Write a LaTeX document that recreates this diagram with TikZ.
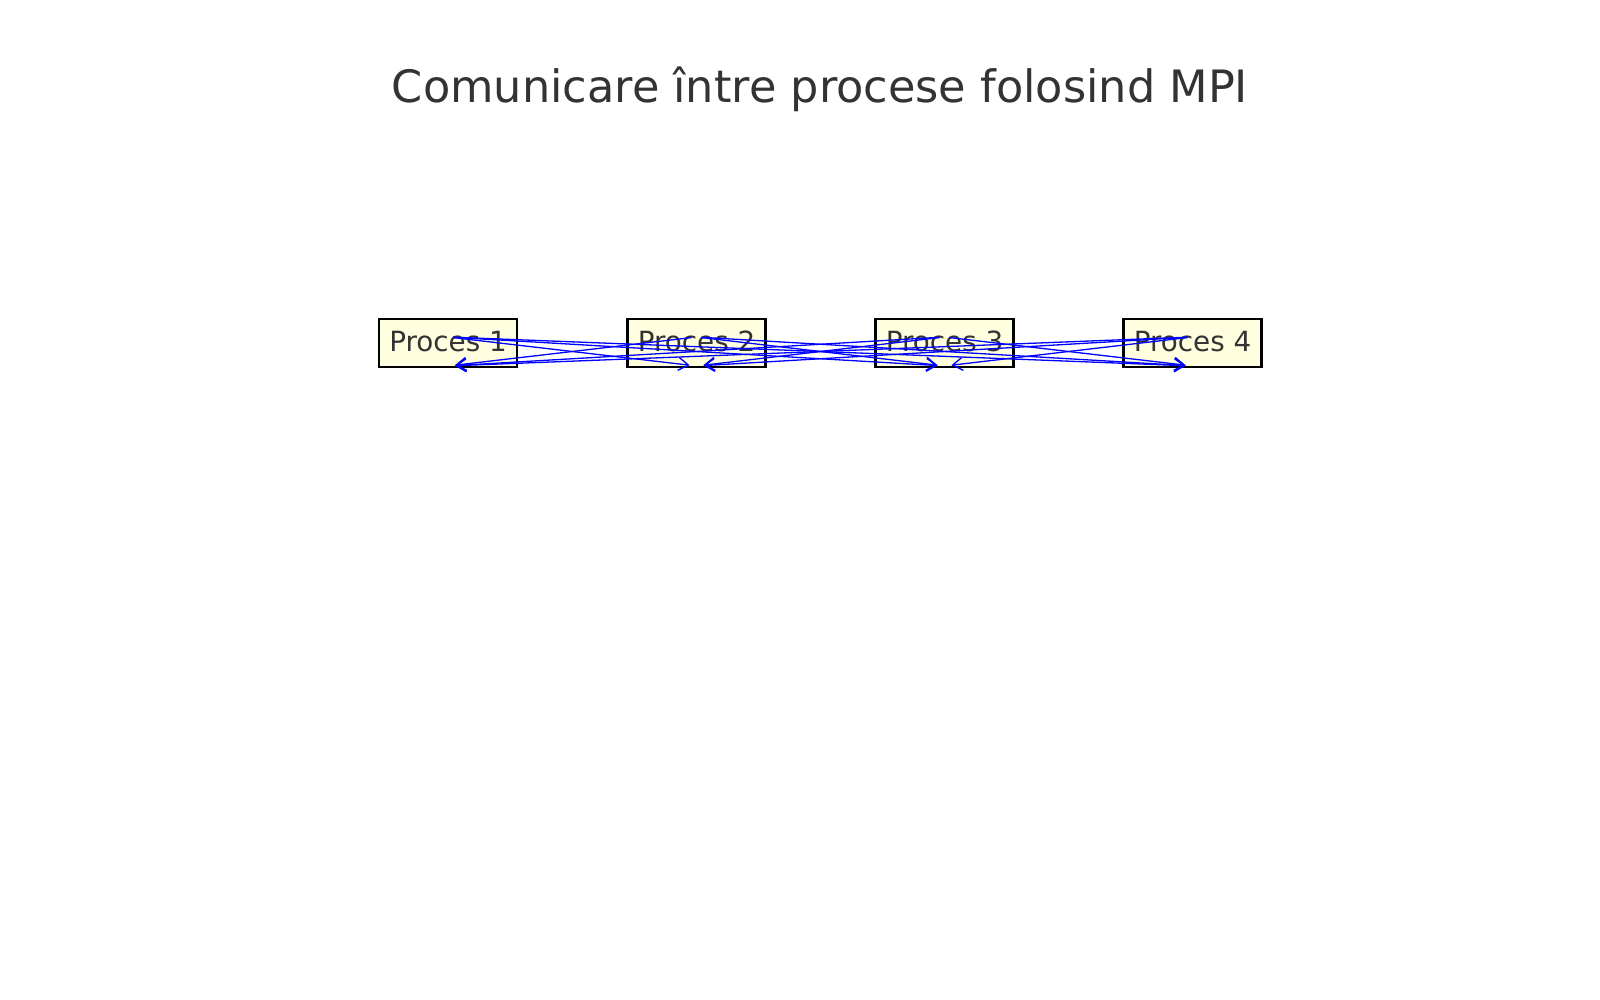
\documentclass[tikz,border=0pt]{standalone}
\usepackage{fontspec}
\setmainfont{DejaVu Sans}
\usetikzlibrary{arrows.meta}
\definecolor{txt}{HTML}{333333}
\definecolor{boxfill}{HTML}{FFFFE0}
\tikzset{
  procbox/.style={draw=black, line width=2.6pt, fill=boxfill, text=txt,
    minimum width=138pt, minimum height=48pt, inner sep=0pt,
    text height=20.3pt, text depth=4.3pt,
    font=\fontsize{27.8pt}{30pt}\selectfont},
  msg/.style={draw=blue, line width=1.3pt,
    -{Straight Barb[length=10pt,width=13pt,line width=1.3pt]},
    shorten <=5pt, shorten >=7pt},
  titletext/.style={text=txt, inner sep=0pt, anchor=base,
    font=\fontsize{44.6pt}{48pt}\selectfont}
}
\begin{document}
\begin{tikzpicture}[x=1pt,y=-1pt]
\useasboundingbox[fill=white] (0,0) rectangle (1600,1000);
\node[titletext] (title) at (820,102.5) {Comunicare între procese folosind MPI};
\node[procbox] (p1) at (448,343) {Proces 1};
\node[procbox] (p2) at (696.5,343) {Proces 2};
\node[procbox] (p3) at (944.5,343) {Proces 3};
\node[procbox] (p4) at (1192.5,343) {Proces 4};
\foreach \k in {1,...,4}{
  \coordinate (s\k) at ([yshift=6pt]p\k.center);
  \coordinate (e\k) at ([yshift=-23pt]p\k.center);
}
\foreach \i in {1,...,4}{
  \foreach \j in {1,...,4}{
    \ifnum\i=\j\relax\else
      \draw[msg] (s\i) -- (e\j);
    \fi
  }
}
\end{tikzpicture}
\end{document}
